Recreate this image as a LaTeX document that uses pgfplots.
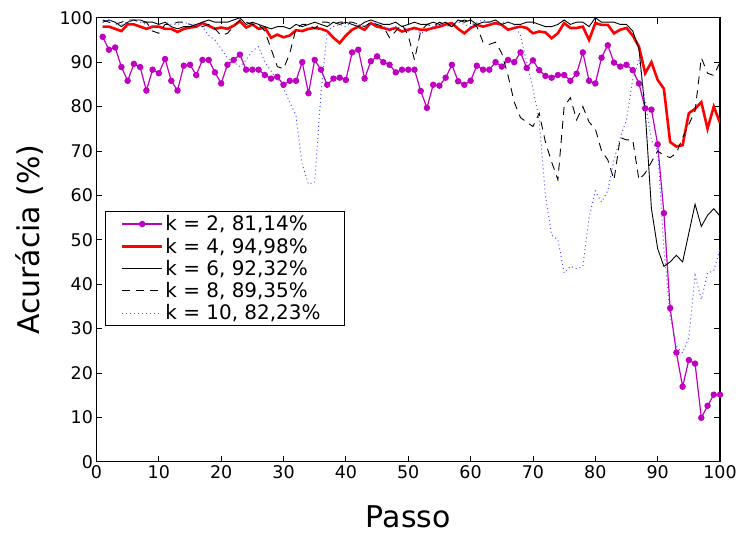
\documentclass[border=0pt]{standalone}
\usepackage{fontspec}
\setmainfont{DejaVu Sans}
\usepackage{pgfplots}
\usepackage{pgfplotstable}
\pgfplotsset{compat=1.18}
\definecolor{cmag}{RGB}{192,0,192}
\definecolor{cdot}{RGB}{80,80,255}
\pgfplotstableread{
x k2 k4 k6 k8 k10
1 95.7 98 99 99.5 99
2 92.8 98 99.5 99 99.5
3 93.3 97.5 99 98.5 99
4 88.9 97 98 99 98.5
5 85.8 98.5 99 99.5 99
6 89.6 98.5 99.5 99.5 99.5
7 88.9 98 99.5 99 99
8 83.6 97.5 99 99 98.5
9 88.3 98 99 97 98
10 87.5 98 98.5 96.5 98.5
11 90.7 97.5 99 98.5 99
12 85.8 97.5 98 98.5 98.5
13 83.6 96.8 97.5 99 98.5
14 89.2 97.5 98 99 99
15 89.4 97.8 98 98.5 98.5
16 87.1 98 98.5 98 98.5
17 90.5 98.8 99 98 98
18 90.5 98.2 99.5 98.5 96
19 87.7 97.5 99 97.5 95
20 85.2 97.8 99 96 93
21 89.4 97.5 99 96.5 91
22 90.5 98.2 99.5 98 90
23 91.7 99.2 100 99.5 89
24 88.3 97.8 98.5 99 90.5
25 88.3 98.5 99 98.5 92.5
26 88.3 97.5 98.5 98.5 93.5
27 87.1 97.8 98 97 90
28 86.3 95.5 97.5 93 88
29 86.7 96.2 98 89 86
30 84.9 95.6 98 88.5 84
31 85.8 96 97.5 92 81
32 85.8 97.2 98.5 97.5 78
33 90 97 98 98.5 67
34 83 97.5 98.5 98.5 62.5
35 90.5 97.7 99 97.5 63
36 88.3 97.5 98.5 99 83
37 84.9 97 98 99 97
38 86.3 95.5 99 98.5 98
39 86.5 94.3 98.5 99 98.5
40 86 96 99 99 98
41 92.2 97.3 98.5 99 99
42 92.8 98 98 98.5 98.5
43 86.3 97.3 99 98 98
44 90.2 98.8 99.5 99 98.5
45 91.3 98 99 98.5 99
46 90 97.7 98.5 98 98
47 89.4 97.3 98.5 95.5 97.5
48 87.7 97.7 99 97 98
49 88.3 96.9 98 98.5 98.5
50 88.3 97.3 98.5 96 97
51 88.3 97.7 99 90.5 97.5
52 83.5 97.3 98.5 97 96.5
53 79.7 97.3 98.5 98.5 97
54 84.9 97.7 99 98 98
55 84.7 98 98.5 99 98.5
56 86.5 98.5 99 98.5 98
57 89.4 98.8 98 98 98.5
58 85.7 97.5 99.5 99 99
59 84.9 96.5 99 99.5 98.5
60 85.8 97.7 99.5 99 98
61 89.2 98.4 98.5 98 99
62 88.3 98 99 94.5 99.5
63 88.3 98.4 99 94 99
64 90 98.8 99.5 94.5 98.5
65 89 98.4 98.5 92 99
66 90.5 97.3 99 87 99
67 90 97.7 98.5 81 98.5
68 92.2 98 98.5 77.5 96
69 88.7 97.7 99 76.5 90
70 90.4 96.5 99 75.5 84
71 88.2 96.9 98.5 78.5 77
72 86.9 96.7 98 72 60
73 86.5 95.4 98 67.5 51
74 87.1 96.5 98.5 63.5 50
75 87.1 98.8 99.5 80 42.5
76 85.8 97.7 98.5 82 44
77 87.4 97.7 99 77 43.5
78 92.2 98 99 80 44
79 85.8 95 98 76.5 55
80 85.2 98.8 100 75 61
81 91 98.4 99 70 58.5
82 93.8 98.4 99 68 61
83 89.9 96.5 99 63.5 68
84 89 97.3 98.5 73 73
85 89.4 97.7 98.5 72.5 77
86 88.2 96 97 72.5 86
87 85.2 93.5 93 63.5 90.5
88 79.6 87.5 79 65 81
89 79.3 90 57 67.5 72.5
90 71.5 86 48 70 70
91 56 84 44 69 48
92 34.6 72 45 68.5 33
93 24.6 71 46.5 69.5 26
94 16.9 71.3 45 73 24.5
95 22.9 78.5 51.5 76 28
96 22.1 79.5 58 79 42
97 9.9 81 53 91 36.5
98 12.6 75 55.5 87.5 42.5
99 15.1 80 57 87 43
100 15.1 76.3 55.3 90 48
}\datatable
\begin{document}
\begin{tikzpicture}
\begin{axis}[
  scale only axis, width=625pt, height=445pt,
  xmin=0, xmax=100, ymin=0, ymax=100,
  xtick={0,10,...,100}, ytick={0,10,...,100},
  tick align=inside, major tick length=6pt,
  axis line style={line width=1.4pt},
  tick style={black, line width=0.8pt},
  ticklabel style={font=\fontsize{17.5}{17.5}\selectfont},
  /pgf/number format/assume math mode=true,
  xlabel={Passo}, ylabel={Acurácia (\%)},
  label style={font=\fontsize{30}{30}\selectfont},
  xlabel style={yshift=-20pt},
  ylabel style={yshift=9pt},
  legend style={at={(0.013,0.564)}, anchor=north west,
    font=\fontsize{20}{22}\selectfont, thick,
    inner sep=2pt, row sep=1.6pt},
  legend cell align=left,
  legend image code/.code={\path (0pt,0pt) (54pt,0pt);\draw[mark repeat=2,mark phase=2,#1] plot coordinates {(14pt,0pt) (34pt,0pt) (54pt,0pt)};},
]
\addplot[cmag, line width=1.2pt, mark=*, mark size=2.6pt, mark options={fill=cmag, draw=cmag}] table[x=x,y=k2] {\datatable};
\addlegendentry{k = 2, 81,14\%}
\addplot[red, line width=2.6pt] table[x=x,y=k4] {\datatable};
\addlegendentry{k = 4, 94,98\%}
\addplot[black, line width=0.9pt] table[x=x,y=k6] {\datatable};
\addlegendentry{k = 6, 92,32\%}
\addplot[black, line width=0.9pt, dash pattern=on 8pt off 6pt] table[x=x,y=k8] {\datatable};
\addlegendentry{k = 8, 89,35\%}
\addplot[cdot, line width=1pt, dash pattern=on 1pt off 3pt] table[x=x,y=k10] {\datatable};
\addlegendentry{k = 10, 82,23\%\hspace*{20pt}}
\end{axis}
\path (current axis.south west) ++(-96.7pt,-71.2pt) rectangle ++(740pt,534pt);
\end{tikzpicture}
\end{document}
